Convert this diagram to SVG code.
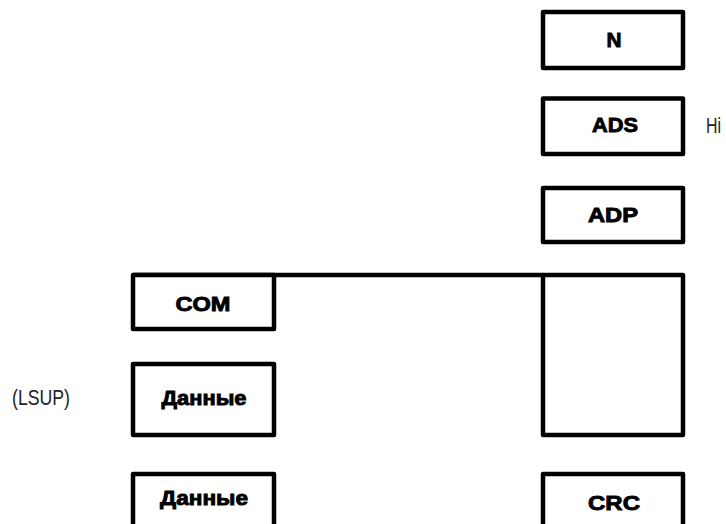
<svg xmlns="http://www.w3.org/2000/svg" width="726" height="524" viewBox="0 0 726 524">
<style>
.box{fill:#fff;stroke:#000;stroke-width:4.5;stroke-linejoin:round}
.lbl{font-family:"Liberation Sans",Arial,sans-serif;font-weight:bold;font-size:21px;fill:#000;stroke:#000;stroke-width:0.9;text-anchor:middle}
.note{font-family:"Liberation Sans",Arial,sans-serif;font-size:22px;fill:#222}
.conn{stroke:#000;stroke-width:4.5;fill:none}
</style>
<rect width="726" height="524" fill="#fff"/>
<g id="connectors">
<line class="conn" x1="133" y1="275" x2="543" y2="275"/>
</g>
<g id="node-n">
<rect class="box" x="543" y="12" width="140" height="56"/>
<text class="lbl" x="614" y="47" textLength="15" lengthAdjust="spacingAndGlyphs">N</text>
</g>
<g id="node-ads">
<rect class="box" x="543" y="98.5" width="140" height="55.5"/>
<text class="lbl" x="615" y="132" textLength="46" lengthAdjust="spacingAndGlyphs">ADS</text>
</g>
<g id="node-adp">
<rect class="box" x="543" y="188" width="140" height="54"/>
<text class="lbl" x="613" y="222" textLength="50" lengthAdjust="spacingAndGlyphs">ADP</text>
</g>
<g id="node-big">
<rect class="box" x="543" y="275" width="140" height="160"/>
</g>
<g id="node-crc">
<rect class="box" x="543" y="474" width="140" height="60"/>
<text class="lbl" x="614" y="510" textLength="52" lengthAdjust="spacingAndGlyphs">CRC</text>
</g>
<g id="node-com">
<rect class="box" x="133" y="275" width="141" height="54"/>
<text class="lbl" x="203" y="311" textLength="55" lengthAdjust="spacingAndGlyphs">COM</text>
</g>
<g id="node-data1">
<rect class="box" x="133" y="364" width="141" height="71"/>
<text class="lbl" x="204" y="405" textLength="85" lengthAdjust="spacingAndGlyphs">Данные</text>
</g>
<g id="node-data2">
<rect class="box" x="133" y="474" width="141" height="60"/>
<text class="lbl" x="204" y="505" textLength="88" lengthAdjust="spacingAndGlyphs">Данные</text>
</g>
<g id="labels">
<text class="note" x="706" y="133" textLength="15" lengthAdjust="spacingAndGlyphs">Hi</text>
<text class="note" x="12" y="405" textLength="58" lengthAdjust="spacingAndGlyphs">(LSUP)</text>
</g>
</svg>
